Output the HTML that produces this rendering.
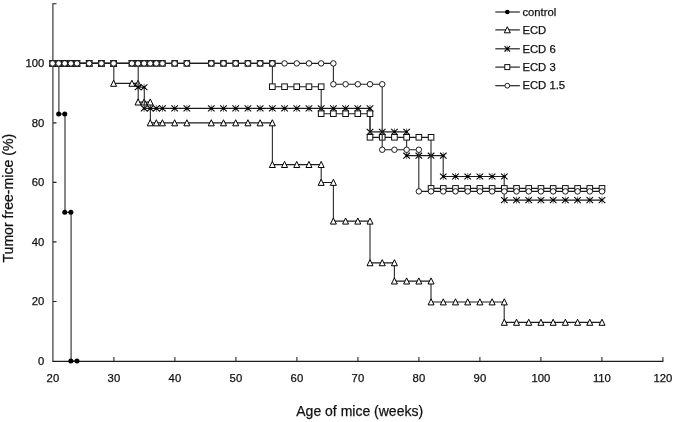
<!DOCTYPE html>
<html><head><meta charset="utf-8"><title>Tumor free-mice</title>
<style>html,body{margin:0;padding:0;background:#fff}svg{display:block;filter:grayscale(1)}text{font-family:"Liberation Sans",Arial,sans-serif;fill:#111;stroke:#111;stroke-width:0.25px}</style></head><body>
<svg width="675" height="422" viewBox="0 0 675 422">
<rect width="675" height="422" fill="#fff"/>
<path d="M52.35 361.35H663.45M52.90 301.46h3.6M52.90 241.92h3.6M52.90 182.38h3.6M52.90 122.84h3.6M52.90 63.30h3.6M52.90 3.76h3.6" fill="none" stroke="#1c1c1c" stroke-width="1.15"/>
<path d="M52.90 3.26V361.35M113.90 361.00v-4M174.90 361.00v-4M235.90 361.00v-4M296.90 361.00v-4M357.90 361.00v-4M418.90 361.00v-4M479.90 361.00v-4M540.90 361.00v-4M601.90 361.00v-4M662.90 361.00v-4" fill="none" stroke="#333" stroke-width="1.15"/>
<text x="44.3" y="364.80" font-size="11.3" text-anchor="end">0</text>
<text x="44.3" y="305.26" font-size="11.3" text-anchor="end">20</text>
<text x="44.3" y="245.72" font-size="11.3" text-anchor="end">40</text>
<text x="44.3" y="186.18" font-size="11.3" text-anchor="end">60</text>
<text x="44.3" y="126.64" font-size="11.3" text-anchor="end">80</text>
<text x="44.3" y="67.10" font-size="11.3" text-anchor="end">100</text>
<text x="52.90" y="381.7" font-size="11.3" text-anchor="middle">20</text>
<text x="113.90" y="381.7" font-size="11.3" text-anchor="middle">30</text>
<text x="174.90" y="381.7" font-size="11.3" text-anchor="middle">40</text>
<text x="235.90" y="381.7" font-size="11.3" text-anchor="middle">50</text>
<text x="296.90" y="381.7" font-size="11.3" text-anchor="middle">60</text>
<text x="357.90" y="381.7" font-size="11.3" text-anchor="middle">70</text>
<text x="418.90" y="381.7" font-size="11.3" text-anchor="middle">80</text>
<text x="479.90" y="381.7" font-size="11.3" text-anchor="middle">90</text>
<text x="540.90" y="381.7" font-size="11.3" text-anchor="middle">100</text>
<text x="601.90" y="381.7" font-size="11.3" text-anchor="middle">110</text>
<text x="662.90" y="381.7" font-size="11.3" text-anchor="middle">120</text>
<text x="359.7" y="416.4" font-size="14" text-anchor="middle">Age of mice (weeks)</text>
<text transform="translate(13.4 198.2) rotate(-90)" font-size="14.1" text-anchor="middle">Tumor free-mice (%)</text>
<g><path d="M52.80 63.40H58.90M58.90 114.01H65.00M65.00 212.25H71.10M71.10 361.10H77.20" fill="none" stroke="#1c1c1c" stroke-width="1.15"/><path d="M58.90 63.40V114.01M65.00 114.01V212.25M71.10 212.25V361.10" fill="none" stroke="#333" stroke-width="1.15"/>
<circle cx="52.55" cy="63.40" r="2.5" fill="#000"/>
<circle cx="58.66" cy="63.40" r="2.5" fill="#000"/>
<circle cx="58.66" cy="114.01" r="2.5" fill="#000"/>
<circle cx="64.76" cy="114.01" r="2.5" fill="#000"/>
<circle cx="64.76" cy="212.25" r="2.5" fill="#000"/>
<circle cx="70.86" cy="212.25" r="2.5" fill="#000"/>
<circle cx="70.86" cy="361.10" r="2.5" fill="#000"/>
<circle cx="76.97" cy="361.10" r="2.5" fill="#000"/>
</g>
<g><path d="M52.80 63.40H58.90M58.90 63.40H65.00M65.00 63.40H71.10M71.10 63.40H77.20M77.20 63.40H89.40M89.40 63.40H101.60M101.60 63.40H113.80M113.80 83.40H132.10M132.10 83.40H138.20M138.20 102.10H144.30M144.30 102.10H150.40M150.40 122.94H156.50M156.50 122.94H162.60M162.60 122.94H174.80M174.80 122.94H187.00M187.00 122.94H211.40M211.40 122.94H223.60M223.60 122.94H235.80M235.80 122.94H248.00M248.00 122.94H260.20M260.20 122.94H272.40M272.40 164.62H284.60M284.60 164.62H296.80M296.80 164.62H309.00M309.00 164.62H321.20M321.20 182.48H333.40M333.40 221.18H345.60M345.60 221.18H357.80M357.80 221.18H370.00M370.00 262.86H382.20M382.20 262.86H394.40M394.40 281.10H406.60M406.60 281.10H418.80M418.80 281.10H431.00M431.00 302.00H443.20M443.20 302.00H455.40M455.40 302.00H467.60M467.60 302.00H479.80M479.80 302.00H492.00M492.00 302.00H504.20M504.20 322.40H516.40M516.40 322.40H528.60M528.60 322.40H540.80M540.80 322.40H553.00M553.00 322.40H565.20M565.20 322.40H577.40M577.40 322.40H589.60M589.60 322.40H601.80" fill="none" stroke="#1c1c1c" stroke-width="1.15"/><path d="M113.80 63.40V83.40M138.20 83.40V102.10M150.40 102.10V122.94M272.40 122.94V164.62M321.20 164.62V182.48M333.40 182.48V221.18M370.00 221.18V262.86M394.40 262.86V281.10M431.00 281.10V302.00M504.20 302.00V322.40" fill="none" stroke="#333" stroke-width="1.15"/>
<path d="M52.55 60.20 L55.55 66.30 L49.55 66.30 Z" fill="#fff" stroke="#000" stroke-width="1"/>
<path d="M58.66 60.20 L61.66 66.30 L55.66 66.30 Z" fill="#fff" stroke="#000" stroke-width="1"/>
<path d="M64.76 60.20 L67.76 66.30 L61.76 66.30 Z" fill="#fff" stroke="#000" stroke-width="1"/>
<path d="M70.86 60.20 L73.86 66.30 L67.86 66.30 Z" fill="#fff" stroke="#000" stroke-width="1"/>
<path d="M76.97 60.20 L79.97 66.30 L73.97 66.30 Z" fill="#fff" stroke="#000" stroke-width="1"/>
<path d="M89.18 60.20 L92.18 66.30 L86.18 66.30 Z" fill="#fff" stroke="#000" stroke-width="1"/>
<path d="M101.39 60.20 L104.39 66.30 L98.39 66.30 Z" fill="#fff" stroke="#000" stroke-width="1"/>
<path d="M113.60 60.20 L116.60 66.30 L110.60 66.30 Z" fill="#fff" stroke="#000" stroke-width="1"/>
<path d="M113.60 80.20 L116.60 86.30 L110.60 86.30 Z" fill="#fff" stroke="#000" stroke-width="1"/>
<path d="M131.92 80.20 L134.92 86.30 L128.92 86.30 Z" fill="#fff" stroke="#000" stroke-width="1"/>
<path d="M138.02 80.20 L141.02 86.30 L135.02 86.30 Z" fill="#fff" stroke="#000" stroke-width="1"/>
<path d="M138.02 98.90 L141.02 105.00 L135.02 105.00 Z" fill="#fff" stroke="#000" stroke-width="1"/>
<path d="M144.12 98.90 L147.12 105.00 L141.12 105.00 Z" fill="#fff" stroke="#000" stroke-width="1"/>
<path d="M150.23 98.90 L153.23 105.00 L147.23 105.00 Z" fill="#fff" stroke="#000" stroke-width="1"/>
<path d="M150.23 119.74 L153.23 125.84 L147.23 125.84 Z" fill="#fff" stroke="#000" stroke-width="1"/>
<path d="M156.34 119.74 L159.34 125.84 L153.34 125.84 Z" fill="#fff" stroke="#000" stroke-width="1"/>
<path d="M162.44 119.74 L165.44 125.84 L159.44 125.84 Z" fill="#fff" stroke="#000" stroke-width="1"/>
<path d="M174.65 119.74 L177.65 125.84 L171.65 125.84 Z" fill="#fff" stroke="#000" stroke-width="1"/>
<path d="M186.86 119.74 L189.86 125.84 L183.86 125.84 Z" fill="#fff" stroke="#000" stroke-width="1"/>
<path d="M211.28 119.74 L214.28 125.84 L208.28 125.84 Z" fill="#fff" stroke="#000" stroke-width="1"/>
<path d="M223.49 119.74 L226.49 125.84 L220.49 125.84 Z" fill="#fff" stroke="#000" stroke-width="1"/>
<path d="M235.70 119.74 L238.70 125.84 L232.70 125.84 Z" fill="#fff" stroke="#000" stroke-width="1"/>
<path d="M247.91 119.74 L250.91 125.84 L244.91 125.84 Z" fill="#fff" stroke="#000" stroke-width="1"/>
<path d="M260.12 119.74 L263.12 125.84 L257.12 125.84 Z" fill="#fff" stroke="#000" stroke-width="1"/>
<path d="M272.33 119.74 L275.33 125.84 L269.33 125.84 Z" fill="#fff" stroke="#000" stroke-width="1"/>
<path d="M272.33 161.42 L275.33 167.52 L269.33 167.52 Z" fill="#fff" stroke="#000" stroke-width="1"/>
<path d="M284.54 161.42 L287.54 167.52 L281.54 167.52 Z" fill="#fff" stroke="#000" stroke-width="1"/>
<path d="M296.75 161.42 L299.75 167.52 L293.75 167.52 Z" fill="#fff" stroke="#000" stroke-width="1"/>
<path d="M308.96 161.42 L311.96 167.52 L305.96 167.52 Z" fill="#fff" stroke="#000" stroke-width="1"/>
<path d="M321.17 161.42 L324.17 167.52 L318.17 167.52 Z" fill="#fff" stroke="#000" stroke-width="1"/>
<path d="M321.17 179.28 L324.17 185.38 L318.17 185.38 Z" fill="#fff" stroke="#000" stroke-width="1"/>
<path d="M333.38 179.28 L336.38 185.38 L330.38 185.38 Z" fill="#fff" stroke="#000" stroke-width="1"/>
<path d="M333.38 217.98 L336.38 224.08 L330.38 224.08 Z" fill="#fff" stroke="#000" stroke-width="1"/>
<path d="M345.59 217.98 L348.59 224.08 L342.59 224.08 Z" fill="#fff" stroke="#000" stroke-width="1"/>
<path d="M357.80 217.98 L360.80 224.08 L354.80 224.08 Z" fill="#fff" stroke="#000" stroke-width="1"/>
<path d="M370.01 217.98 L373.01 224.08 L367.01 224.08 Z" fill="#fff" stroke="#000" stroke-width="1"/>
<path d="M370.01 259.66 L373.01 265.76 L367.01 265.76 Z" fill="#fff" stroke="#000" stroke-width="1"/>
<path d="M382.22 259.66 L385.22 265.76 L379.22 265.76 Z" fill="#fff" stroke="#000" stroke-width="1"/>
<path d="M394.43 259.66 L397.43 265.76 L391.43 265.76 Z" fill="#fff" stroke="#000" stroke-width="1"/>
<path d="M394.43 277.90 L397.43 284.00 L391.43 284.00 Z" fill="#fff" stroke="#000" stroke-width="1"/>
<path d="M406.64 277.90 L409.64 284.00 L403.64 284.00 Z" fill="#fff" stroke="#000" stroke-width="1"/>
<path d="M418.85 277.90 L421.85 284.00 L415.85 284.00 Z" fill="#fff" stroke="#000" stroke-width="1"/>
<path d="M431.06 277.90 L434.06 284.00 L428.06 284.00 Z" fill="#fff" stroke="#000" stroke-width="1"/>
<path d="M431.06 298.80 L434.06 304.90 L428.06 304.90 Z" fill="#fff" stroke="#000" stroke-width="1"/>
<path d="M443.27 298.80 L446.27 304.90 L440.27 304.90 Z" fill="#fff" stroke="#000" stroke-width="1"/>
<path d="M455.48 298.80 L458.48 304.90 L452.48 304.90 Z" fill="#fff" stroke="#000" stroke-width="1"/>
<path d="M467.69 298.80 L470.69 304.90 L464.69 304.90 Z" fill="#fff" stroke="#000" stroke-width="1"/>
<path d="M479.90 298.80 L482.90 304.90 L476.90 304.90 Z" fill="#fff" stroke="#000" stroke-width="1"/>
<path d="M492.11 298.80 L495.11 304.90 L489.11 304.90 Z" fill="#fff" stroke="#000" stroke-width="1"/>
<path d="M504.32 298.80 L507.32 304.90 L501.32 304.90 Z" fill="#fff" stroke="#000" stroke-width="1"/>
<path d="M504.32 319.20 L507.32 325.30 L501.32 325.30 Z" fill="#fff" stroke="#000" stroke-width="1"/>
<path d="M516.53 319.20 L519.53 325.30 L513.53 325.30 Z" fill="#fff" stroke="#000" stroke-width="1"/>
<path d="M528.74 319.20 L531.74 325.30 L525.74 325.30 Z" fill="#fff" stroke="#000" stroke-width="1"/>
<path d="M540.95 319.20 L543.95 325.30 L537.95 325.30 Z" fill="#fff" stroke="#000" stroke-width="1"/>
<path d="M553.16 319.20 L556.16 325.30 L550.16 325.30 Z" fill="#fff" stroke="#000" stroke-width="1"/>
<path d="M565.37 319.20 L568.37 325.30 L562.37 325.30 Z" fill="#fff" stroke="#000" stroke-width="1"/>
<path d="M577.58 319.20 L580.58 325.30 L574.58 325.30 Z" fill="#fff" stroke="#000" stroke-width="1"/>
<path d="M589.79 319.20 L592.79 325.30 L586.79 325.30 Z" fill="#fff" stroke="#000" stroke-width="1"/>
<path d="M602.00 319.20 L605.00 325.30 L599.00 325.30 Z" fill="#fff" stroke="#000" stroke-width="1"/>
</g>
<g><path d="M52.80 63.40H58.90M58.90 63.40H65.00M65.00 63.40H71.10M71.10 63.40H77.20M77.20 63.40H89.40M89.40 63.40H101.60M101.60 63.40H113.80M113.80 63.40H132.10M132.10 63.40H138.20M138.20 87.22H144.30M144.30 108.40H150.40M150.40 108.40H156.50M156.50 108.40H162.60M162.60 108.40H174.80M174.80 108.40H187.00M187.00 108.40H211.40M211.40 108.40H223.60M223.60 108.40H235.80M235.80 108.40H248.00M248.00 108.40H260.20M260.20 108.40H272.40M272.40 108.40H284.60M284.60 108.40H296.80M296.80 108.40H309.00M309.00 108.40H321.20M321.20 108.40H333.40M333.40 108.40H345.60M345.60 108.40H357.80M357.80 108.40H370.00M370.00 131.87H382.20M382.20 131.87H394.40M394.40 131.87H406.60M406.60 155.69H418.80M418.80 155.69H431.00M431.00 155.69H443.20M443.20 176.53H455.40M455.40 176.53H467.60M467.60 176.53H479.80M479.80 176.53H492.00M492.00 176.53H504.20M504.20 200.10H516.40M516.40 200.10H528.60M528.60 200.10H540.80M540.80 200.10H553.00M553.00 200.10H565.20M565.20 200.10H577.40M577.40 200.10H589.60M589.60 200.10H601.80" fill="none" stroke="#1c1c1c" stroke-width="1.15"/><path d="M138.20 63.40V87.22M144.30 87.22V108.40M370.00 108.40V131.87M406.60 131.87V155.69M443.20 155.69V176.53M504.20 176.53V200.10" fill="none" stroke="#333" stroke-width="1.15"/>
<path d="M49.25 60.45 L55.85 66.35 M49.25 66.35 L55.85 60.45" fill="none" stroke="#000" stroke-width="1.05"/><path d="M52.55 59.90 L52.55 66.90" fill="none" stroke="#555" stroke-width="0.8"/><circle cx="52.55" cy="63.40" r="1.25" fill="#000"/>
<path d="M55.36 60.45 L61.95 66.35 M55.36 66.35 L61.95 60.45" fill="none" stroke="#000" stroke-width="1.05"/><path d="M58.66 59.90 L58.66 66.90" fill="none" stroke="#555" stroke-width="0.8"/><circle cx="58.66" cy="63.40" r="1.25" fill="#000"/>
<path d="M61.46 60.45 L68.06 66.35 M61.46 66.35 L68.06 60.45" fill="none" stroke="#000" stroke-width="1.05"/><path d="M64.76 59.90 L64.76 66.90" fill="none" stroke="#555" stroke-width="0.8"/><circle cx="64.76" cy="63.40" r="1.25" fill="#000"/>
<path d="M67.56 60.45 L74.16 66.35 M67.56 66.35 L74.16 60.45" fill="none" stroke="#000" stroke-width="1.05"/><path d="M70.86 59.90 L70.86 66.90" fill="none" stroke="#555" stroke-width="0.8"/><circle cx="70.86" cy="63.40" r="1.25" fill="#000"/>
<path d="M73.67 60.45 L80.27 66.35 M73.67 66.35 L80.27 60.45" fill="none" stroke="#000" stroke-width="1.05"/><path d="M76.97 59.90 L76.97 66.90" fill="none" stroke="#555" stroke-width="0.8"/><circle cx="76.97" cy="63.40" r="1.25" fill="#000"/>
<path d="M85.88 60.45 L92.48 66.35 M85.88 66.35 L92.48 60.45" fill="none" stroke="#000" stroke-width="1.05"/><path d="M89.18 59.90 L89.18 66.90" fill="none" stroke="#555" stroke-width="0.8"/><circle cx="89.18" cy="63.40" r="1.25" fill="#000"/>
<path d="M98.09 60.45 L104.69 66.35 M98.09 66.35 L104.69 60.45" fill="none" stroke="#000" stroke-width="1.05"/><path d="M101.39 59.90 L101.39 66.90" fill="none" stroke="#555" stroke-width="0.8"/><circle cx="101.39" cy="63.40" r="1.25" fill="#000"/>
<path d="M110.30 60.45 L116.90 66.35 M110.30 66.35 L116.90 60.45" fill="none" stroke="#000" stroke-width="1.05"/><path d="M113.60 59.90 L113.60 66.90" fill="none" stroke="#555" stroke-width="0.8"/><circle cx="113.60" cy="63.40" r="1.25" fill="#000"/>
<path d="M128.62 60.45 L135.22 66.35 M128.62 66.35 L135.22 60.45" fill="none" stroke="#000" stroke-width="1.05"/><path d="M131.92 59.90 L131.92 66.90" fill="none" stroke="#555" stroke-width="0.8"/><circle cx="131.92" cy="63.40" r="1.25" fill="#000"/>
<path d="M134.72 60.45 L141.32 66.35 M134.72 66.35 L141.32 60.45" fill="none" stroke="#000" stroke-width="1.05"/><path d="M138.02 59.90 L138.02 66.90" fill="none" stroke="#555" stroke-width="0.8"/><circle cx="138.02" cy="63.40" r="1.25" fill="#000"/>
<path d="M134.72 84.27 L141.32 90.17 M134.72 90.17 L141.32 84.27" fill="none" stroke="#000" stroke-width="1.05"/><path d="M138.02 83.72 L138.02 90.72" fill="none" stroke="#555" stroke-width="0.8"/><circle cx="138.02" cy="87.22" r="1.25" fill="#000"/>
<path d="M140.82 84.27 L147.43 90.17 M140.82 90.17 L147.43 84.27" fill="none" stroke="#000" stroke-width="1.05"/><path d="M144.12 83.72 L144.12 90.72" fill="none" stroke="#555" stroke-width="0.8"/><circle cx="144.12" cy="87.22" r="1.25" fill="#000"/>
<path d="M140.82 105.45 L147.43 111.35 M140.82 111.35 L147.43 105.45" fill="none" stroke="#000" stroke-width="1.05"/><path d="M144.12 104.90 L144.12 111.90" fill="none" stroke="#555" stroke-width="0.8"/><circle cx="144.12" cy="108.40" r="1.25" fill="#000"/>
<path d="M146.93 105.45 L153.53 111.35 M146.93 111.35 L153.53 105.45" fill="none" stroke="#000" stroke-width="1.05"/><path d="M150.23 104.90 L150.23 111.90" fill="none" stroke="#555" stroke-width="0.8"/><circle cx="150.23" cy="108.40" r="1.25" fill="#000"/>
<path d="M153.03 105.45 L159.64 111.35 M153.03 111.35 L159.64 105.45" fill="none" stroke="#000" stroke-width="1.05"/><path d="M156.34 104.90 L156.34 111.90" fill="none" stroke="#555" stroke-width="0.8"/><circle cx="156.34" cy="108.40" r="1.25" fill="#000"/>
<path d="M159.14 105.45 L165.74 111.35 M159.14 111.35 L165.74 105.45" fill="none" stroke="#000" stroke-width="1.05"/><path d="M162.44 104.90 L162.44 111.90" fill="none" stroke="#555" stroke-width="0.8"/><circle cx="162.44" cy="108.40" r="1.25" fill="#000"/>
<path d="M171.35 105.45 L177.95 111.35 M171.35 111.35 L177.95 105.45" fill="none" stroke="#000" stroke-width="1.05"/><path d="M174.65 104.90 L174.65 111.90" fill="none" stroke="#555" stroke-width="0.8"/><circle cx="174.65" cy="108.40" r="1.25" fill="#000"/>
<path d="M183.56 105.45 L190.16 111.35 M183.56 111.35 L190.16 105.45" fill="none" stroke="#000" stroke-width="1.05"/><path d="M186.86 104.90 L186.86 111.90" fill="none" stroke="#555" stroke-width="0.8"/><circle cx="186.86" cy="108.40" r="1.25" fill="#000"/>
<path d="M207.98 105.45 L214.58 111.35 M207.98 111.35 L214.58 105.45" fill="none" stroke="#000" stroke-width="1.05"/><path d="M211.28 104.90 L211.28 111.90" fill="none" stroke="#555" stroke-width="0.8"/><circle cx="211.28" cy="108.40" r="1.25" fill="#000"/>
<path d="M220.19 105.45 L226.79 111.35 M220.19 111.35 L226.79 105.45" fill="none" stroke="#000" stroke-width="1.05"/><path d="M223.49 104.90 L223.49 111.90" fill="none" stroke="#555" stroke-width="0.8"/><circle cx="223.49" cy="108.40" r="1.25" fill="#000"/>
<path d="M232.40 105.45 L239.00 111.35 M232.40 111.35 L239.00 105.45" fill="none" stroke="#000" stroke-width="1.05"/><path d="M235.70 104.90 L235.70 111.90" fill="none" stroke="#555" stroke-width="0.8"/><circle cx="235.70" cy="108.40" r="1.25" fill="#000"/>
<path d="M244.61 105.45 L251.21 111.35 M244.61 111.35 L251.21 105.45" fill="none" stroke="#000" stroke-width="1.05"/><path d="M247.91 104.90 L247.91 111.90" fill="none" stroke="#555" stroke-width="0.8"/><circle cx="247.91" cy="108.40" r="1.25" fill="#000"/>
<path d="M256.82 105.45 L263.42 111.35 M256.82 111.35 L263.42 105.45" fill="none" stroke="#000" stroke-width="1.05"/><path d="M260.12 104.90 L260.12 111.90" fill="none" stroke="#555" stroke-width="0.8"/><circle cx="260.12" cy="108.40" r="1.25" fill="#000"/>
<path d="M269.03 105.45 L275.63 111.35 M269.03 111.35 L275.63 105.45" fill="none" stroke="#000" stroke-width="1.05"/><path d="M272.33 104.90 L272.33 111.90" fill="none" stroke="#555" stroke-width="0.8"/><circle cx="272.33" cy="108.40" r="1.25" fill="#000"/>
<path d="M281.24 105.45 L287.84 111.35 M281.24 111.35 L287.84 105.45" fill="none" stroke="#000" stroke-width="1.05"/><path d="M284.54 104.90 L284.54 111.90" fill="none" stroke="#555" stroke-width="0.8"/><circle cx="284.54" cy="108.40" r="1.25" fill="#000"/>
<path d="M293.45 105.45 L300.05 111.35 M293.45 111.35 L300.05 105.45" fill="none" stroke="#000" stroke-width="1.05"/><path d="M296.75 104.90 L296.75 111.90" fill="none" stroke="#555" stroke-width="0.8"/><circle cx="296.75" cy="108.40" r="1.25" fill="#000"/>
<path d="M305.66 105.45 L312.26 111.35 M305.66 111.35 L312.26 105.45" fill="none" stroke="#000" stroke-width="1.05"/><path d="M308.96 104.90 L308.96 111.90" fill="none" stroke="#555" stroke-width="0.8"/><circle cx="308.96" cy="108.40" r="1.25" fill="#000"/>
<path d="M317.87 105.45 L324.47 111.35 M317.87 111.35 L324.47 105.45" fill="none" stroke="#000" stroke-width="1.05"/><path d="M321.17 104.90 L321.17 111.90" fill="none" stroke="#555" stroke-width="0.8"/><circle cx="321.17" cy="108.40" r="1.25" fill="#000"/>
<path d="M330.08 105.45 L336.68 111.35 M330.08 111.35 L336.68 105.45" fill="none" stroke="#000" stroke-width="1.05"/><path d="M333.38 104.90 L333.38 111.90" fill="none" stroke="#555" stroke-width="0.8"/><circle cx="333.38" cy="108.40" r="1.25" fill="#000"/>
<path d="M342.29 105.45 L348.89 111.35 M342.29 111.35 L348.89 105.45" fill="none" stroke="#000" stroke-width="1.05"/><path d="M345.59 104.90 L345.59 111.90" fill="none" stroke="#555" stroke-width="0.8"/><circle cx="345.59" cy="108.40" r="1.25" fill="#000"/>
<path d="M354.50 105.45 L361.10 111.35 M354.50 111.35 L361.10 105.45" fill="none" stroke="#000" stroke-width="1.05"/><path d="M357.80 104.90 L357.80 111.90" fill="none" stroke="#555" stroke-width="0.8"/><circle cx="357.80" cy="108.40" r="1.25" fill="#000"/>
<path d="M366.71 105.45 L373.31 111.35 M366.71 111.35 L373.31 105.45" fill="none" stroke="#000" stroke-width="1.05"/><path d="M370.01 104.90 L370.01 111.90" fill="none" stroke="#555" stroke-width="0.8"/><circle cx="370.01" cy="108.40" r="1.25" fill="#000"/>
<path d="M366.71 128.92 L373.31 134.82 M366.71 134.82 L373.31 128.92" fill="none" stroke="#000" stroke-width="1.05"/><path d="M370.01 128.37 L370.01 135.37" fill="none" stroke="#555" stroke-width="0.8"/><circle cx="370.01" cy="131.87" r="1.25" fill="#000"/>
<path d="M378.92 128.92 L385.52 134.82 M378.92 134.82 L385.52 128.92" fill="none" stroke="#000" stroke-width="1.05"/><path d="M382.22 128.37 L382.22 135.37" fill="none" stroke="#555" stroke-width="0.8"/><circle cx="382.22" cy="131.87" r="1.25" fill="#000"/>
<path d="M391.13 128.92 L397.73 134.82 M391.13 134.82 L397.73 128.92" fill="none" stroke="#000" stroke-width="1.05"/><path d="M394.43 128.37 L394.43 135.37" fill="none" stroke="#555" stroke-width="0.8"/><circle cx="394.43" cy="131.87" r="1.25" fill="#000"/>
<path d="M403.34 128.92 L409.94 134.82 M403.34 134.82 L409.94 128.92" fill="none" stroke="#000" stroke-width="1.05"/><path d="M406.64 128.37 L406.64 135.37" fill="none" stroke="#555" stroke-width="0.8"/><circle cx="406.64" cy="131.87" r="1.25" fill="#000"/>
<path d="M403.34 152.74 L409.94 158.64 M403.34 158.64 L409.94 152.74" fill="none" stroke="#000" stroke-width="1.05"/><path d="M406.64 152.19 L406.64 159.19" fill="none" stroke="#555" stroke-width="0.8"/><circle cx="406.64" cy="155.69" r="1.25" fill="#000"/>
<path d="M415.55 152.74 L422.15 158.64 M415.55 158.64 L422.15 152.74" fill="none" stroke="#000" stroke-width="1.05"/><path d="M418.85 152.19 L418.85 159.19" fill="none" stroke="#555" stroke-width="0.8"/><circle cx="418.85" cy="155.69" r="1.25" fill="#000"/>
<path d="M427.76 152.74 L434.36 158.64 M427.76 158.64 L434.36 152.74" fill="none" stroke="#000" stroke-width="1.05"/><path d="M431.06 152.19 L431.06 159.19" fill="none" stroke="#555" stroke-width="0.8"/><circle cx="431.06" cy="155.69" r="1.25" fill="#000"/>
<path d="M439.97 152.74 L446.57 158.64 M439.97 158.64 L446.57 152.74" fill="none" stroke="#000" stroke-width="1.05"/><path d="M443.27 152.19 L443.27 159.19" fill="none" stroke="#555" stroke-width="0.8"/><circle cx="443.27" cy="155.69" r="1.25" fill="#000"/>
<path d="M439.97 173.58 L446.57 179.48 M439.97 179.48 L446.57 173.58" fill="none" stroke="#000" stroke-width="1.05"/><path d="M443.27 173.03 L443.27 180.03" fill="none" stroke="#555" stroke-width="0.8"/><circle cx="443.27" cy="176.53" r="1.25" fill="#000"/>
<path d="M452.18 173.58 L458.78 179.48 M452.18 179.48 L458.78 173.58" fill="none" stroke="#000" stroke-width="1.05"/><path d="M455.48 173.03 L455.48 180.03" fill="none" stroke="#555" stroke-width="0.8"/><circle cx="455.48" cy="176.53" r="1.25" fill="#000"/>
<path d="M464.39 173.58 L470.99 179.48 M464.39 179.48 L470.99 173.58" fill="none" stroke="#000" stroke-width="1.05"/><path d="M467.69 173.03 L467.69 180.03" fill="none" stroke="#555" stroke-width="0.8"/><circle cx="467.69" cy="176.53" r="1.25" fill="#000"/>
<path d="M476.60 173.58 L483.20 179.48 M476.60 179.48 L483.20 173.58" fill="none" stroke="#000" stroke-width="1.05"/><path d="M479.90 173.03 L479.90 180.03" fill="none" stroke="#555" stroke-width="0.8"/><circle cx="479.90" cy="176.53" r="1.25" fill="#000"/>
<path d="M488.81 173.58 L495.41 179.48 M488.81 179.48 L495.41 173.58" fill="none" stroke="#000" stroke-width="1.05"/><path d="M492.11 173.03 L492.11 180.03" fill="none" stroke="#555" stroke-width="0.8"/><circle cx="492.11" cy="176.53" r="1.25" fill="#000"/>
<path d="M501.02 173.58 L507.62 179.48 M501.02 179.48 L507.62 173.58" fill="none" stroke="#000" stroke-width="1.05"/><path d="M504.32 173.03 L504.32 180.03" fill="none" stroke="#555" stroke-width="0.8"/><circle cx="504.32" cy="176.53" r="1.25" fill="#000"/>
<path d="M501.02 197.15 L507.62 203.05 M501.02 203.05 L507.62 197.15" fill="none" stroke="#000" stroke-width="1.05"/><path d="M504.32 196.60 L504.32 203.60" fill="none" stroke="#555" stroke-width="0.8"/><circle cx="504.32" cy="200.10" r="1.25" fill="#000"/>
<path d="M513.23 197.15 L519.83 203.05 M513.23 203.05 L519.83 197.15" fill="none" stroke="#000" stroke-width="1.05"/><path d="M516.53 196.60 L516.53 203.60" fill="none" stroke="#555" stroke-width="0.8"/><circle cx="516.53" cy="200.10" r="1.25" fill="#000"/>
<path d="M525.44 197.15 L532.04 203.05 M525.44 203.05 L532.04 197.15" fill="none" stroke="#000" stroke-width="1.05"/><path d="M528.74 196.60 L528.74 203.60" fill="none" stroke="#555" stroke-width="0.8"/><circle cx="528.74" cy="200.10" r="1.25" fill="#000"/>
<path d="M537.65 197.15 L544.25 203.05 M537.65 203.05 L544.25 197.15" fill="none" stroke="#000" stroke-width="1.05"/><path d="M540.95 196.60 L540.95 203.60" fill="none" stroke="#555" stroke-width="0.8"/><circle cx="540.95" cy="200.10" r="1.25" fill="#000"/>
<path d="M549.86 197.15 L556.46 203.05 M549.86 203.05 L556.46 197.15" fill="none" stroke="#000" stroke-width="1.05"/><path d="M553.16 196.60 L553.16 203.60" fill="none" stroke="#555" stroke-width="0.8"/><circle cx="553.16" cy="200.10" r="1.25" fill="#000"/>
<path d="M562.07 197.15 L568.67 203.05 M562.07 203.05 L568.67 197.15" fill="none" stroke="#000" stroke-width="1.05"/><path d="M565.37 196.60 L565.37 203.60" fill="none" stroke="#555" stroke-width="0.8"/><circle cx="565.37" cy="200.10" r="1.25" fill="#000"/>
<path d="M574.28 197.15 L580.88 203.05 M574.28 203.05 L580.88 197.15" fill="none" stroke="#000" stroke-width="1.05"/><path d="M577.58 196.60 L577.58 203.60" fill="none" stroke="#555" stroke-width="0.8"/><circle cx="577.58" cy="200.10" r="1.25" fill="#000"/>
<path d="M586.49 197.15 L593.09 203.05 M586.49 203.05 L593.09 197.15" fill="none" stroke="#000" stroke-width="1.05"/><path d="M589.79 196.60 L589.79 203.60" fill="none" stroke="#555" stroke-width="0.8"/><circle cx="589.79" cy="200.10" r="1.25" fill="#000"/>
<path d="M598.70 197.15 L605.30 203.05 M598.70 203.05 L605.30 197.15" fill="none" stroke="#000" stroke-width="1.05"/><path d="M602.00 196.60 L602.00 203.60" fill="none" stroke="#555" stroke-width="0.8"/><circle cx="602.00" cy="200.10" r="1.25" fill="#000"/>
</g>
<g><path d="M52.80 63.40H58.90M58.90 63.40H65.00M65.00 63.40H71.10M71.10 63.40H77.20M77.20 63.40H89.40M89.40 63.40H101.60M101.60 63.40H113.80M113.80 63.40H132.10M132.10 63.40H138.20M138.20 63.40H144.30M144.30 63.40H150.40M150.40 63.40H156.50M156.50 63.40H162.60M162.60 63.40H174.80M174.80 63.40H187.00M187.00 63.40H211.40M211.40 63.40H223.60M223.60 63.40H235.80M235.80 63.40H248.00M248.00 63.40H260.20M260.20 63.40H272.40M272.40 86.70H284.60M284.60 86.70H296.80M296.80 86.70H309.00M309.00 86.70H321.20M321.20 113.70H333.40M333.40 113.70H345.60M345.60 113.70H357.80M357.80 113.70H370.00M370.00 137.30H382.20M382.20 137.30H394.40M394.40 137.30H406.60M406.60 137.30H418.80M418.80 137.30H431.00M431.00 188.40H443.20M443.20 188.40H455.40M455.40 188.40H467.60M467.60 188.40H479.80M479.80 188.40H492.00M492.00 188.40H504.20M504.20 188.40H516.40M516.40 188.40H528.60M528.60 188.40H540.80M540.80 188.40H553.00M553.00 188.40H565.20M565.20 188.40H577.40M577.40 188.40H589.60M589.60 188.40H601.80" fill="none" stroke="#1c1c1c" stroke-width="1.15"/><path d="M272.40 63.40V86.70M321.20 86.70V113.70M370.00 113.70V137.30M431.00 137.30V188.40" fill="none" stroke="#333" stroke-width="1.15"/>
<rect x="49.75" y="60.60" width="5.60" height="5.60" fill="#fff" stroke="#111" stroke-width="1"/>
<rect x="55.86" y="60.60" width="5.60" height="5.60" fill="#fff" stroke="#111" stroke-width="1"/>
<rect x="61.96" y="60.60" width="5.60" height="5.60" fill="#fff" stroke="#111" stroke-width="1"/>
<rect x="68.06" y="60.60" width="5.60" height="5.60" fill="#fff" stroke="#111" stroke-width="1"/>
<rect x="74.17" y="60.60" width="5.60" height="5.60" fill="#fff" stroke="#111" stroke-width="1"/>
<rect x="86.38" y="60.60" width="5.60" height="5.60" fill="#fff" stroke="#111" stroke-width="1"/>
<rect x="98.59" y="60.60" width="5.60" height="5.60" fill="#fff" stroke="#111" stroke-width="1"/>
<rect x="110.80" y="60.60" width="5.60" height="5.60" fill="#fff" stroke="#111" stroke-width="1"/>
<rect x="129.12" y="60.60" width="5.60" height="5.60" fill="#fff" stroke="#111" stroke-width="1"/>
<rect x="135.22" y="60.60" width="5.60" height="5.60" fill="#fff" stroke="#111" stroke-width="1"/>
<rect x="141.32" y="60.60" width="5.60" height="5.60" fill="#fff" stroke="#111" stroke-width="1"/>
<rect x="147.43" y="60.60" width="5.60" height="5.60" fill="#fff" stroke="#111" stroke-width="1"/>
<rect x="153.53" y="60.60" width="5.60" height="5.60" fill="#fff" stroke="#111" stroke-width="1"/>
<rect x="159.64" y="60.60" width="5.60" height="5.60" fill="#fff" stroke="#111" stroke-width="1"/>
<rect x="171.85" y="60.60" width="5.60" height="5.60" fill="#fff" stroke="#111" stroke-width="1"/>
<rect x="184.06" y="60.60" width="5.60" height="5.60" fill="#fff" stroke="#111" stroke-width="1"/>
<rect x="208.48" y="60.60" width="5.60" height="5.60" fill="#fff" stroke="#111" stroke-width="1"/>
<rect x="220.69" y="60.60" width="5.60" height="5.60" fill="#fff" stroke="#111" stroke-width="1"/>
<rect x="232.90" y="60.60" width="5.60" height="5.60" fill="#fff" stroke="#111" stroke-width="1"/>
<rect x="245.11" y="60.60" width="5.60" height="5.60" fill="#fff" stroke="#111" stroke-width="1"/>
<rect x="257.32" y="60.60" width="5.60" height="5.60" fill="#fff" stroke="#111" stroke-width="1"/>
<rect x="269.53" y="60.60" width="5.60" height="5.60" fill="#fff" stroke="#111" stroke-width="1"/>
<rect x="269.53" y="83.90" width="5.60" height="5.60" fill="#fff" stroke="#111" stroke-width="1"/>
<rect x="281.74" y="83.90" width="5.60" height="5.60" fill="#fff" stroke="#111" stroke-width="1"/>
<rect x="293.95" y="83.90" width="5.60" height="5.60" fill="#fff" stroke="#111" stroke-width="1"/>
<rect x="306.16" y="83.90" width="5.60" height="5.60" fill="#fff" stroke="#111" stroke-width="1"/>
<rect x="318.37" y="83.90" width="5.60" height="5.60" fill="#fff" stroke="#111" stroke-width="1"/>
<rect x="318.37" y="110.90" width="5.60" height="5.60" fill="#fff" stroke="#111" stroke-width="1"/>
<rect x="330.58" y="110.90" width="5.60" height="5.60" fill="#fff" stroke="#111" stroke-width="1"/>
<rect x="342.79" y="110.90" width="5.60" height="5.60" fill="#fff" stroke="#111" stroke-width="1"/>
<rect x="355.00" y="110.90" width="5.60" height="5.60" fill="#fff" stroke="#111" stroke-width="1"/>
<rect x="367.21" y="110.90" width="5.60" height="5.60" fill="#fff" stroke="#111" stroke-width="1"/>
<rect x="367.21" y="134.50" width="5.60" height="5.60" fill="#fff" stroke="#111" stroke-width="1"/>
<rect x="379.42" y="134.50" width="5.60" height="5.60" fill="#fff" stroke="#111" stroke-width="1"/>
<rect x="391.63" y="134.50" width="5.60" height="5.60" fill="#fff" stroke="#111" stroke-width="1"/>
<rect x="403.84" y="134.50" width="5.60" height="5.60" fill="#fff" stroke="#111" stroke-width="1"/>
<rect x="416.05" y="134.50" width="5.60" height="5.60" fill="#fff" stroke="#111" stroke-width="1"/>
<rect x="428.26" y="134.50" width="5.60" height="5.60" fill="#fff" stroke="#111" stroke-width="1"/>
<rect x="428.26" y="185.60" width="5.60" height="5.60" fill="#fff" stroke="#111" stroke-width="1"/>
<rect x="440.47" y="185.60" width="5.60" height="5.60" fill="#fff" stroke="#111" stroke-width="1"/>
<rect x="452.68" y="185.60" width="5.60" height="5.60" fill="#fff" stroke="#111" stroke-width="1"/>
<rect x="464.89" y="185.60" width="5.60" height="5.60" fill="#fff" stroke="#111" stroke-width="1"/>
<rect x="477.10" y="185.60" width="5.60" height="5.60" fill="#fff" stroke="#111" stroke-width="1"/>
<rect x="489.31" y="185.60" width="5.60" height="5.60" fill="#fff" stroke="#111" stroke-width="1"/>
<rect x="501.52" y="185.60" width="5.60" height="5.60" fill="#fff" stroke="#111" stroke-width="1"/>
<rect x="513.73" y="185.60" width="5.60" height="5.60" fill="#fff" stroke="#111" stroke-width="1"/>
<rect x="525.94" y="185.60" width="5.60" height="5.60" fill="#fff" stroke="#111" stroke-width="1"/>
<rect x="538.15" y="185.60" width="5.60" height="5.60" fill="#fff" stroke="#111" stroke-width="1"/>
<rect x="550.36" y="185.60" width="5.60" height="5.60" fill="#fff" stroke="#111" stroke-width="1"/>
<rect x="562.57" y="185.60" width="5.60" height="5.60" fill="#fff" stroke="#111" stroke-width="1"/>
<rect x="574.78" y="185.60" width="5.60" height="5.60" fill="#fff" stroke="#111" stroke-width="1"/>
<rect x="586.99" y="185.60" width="5.60" height="5.60" fill="#fff" stroke="#111" stroke-width="1"/>
<rect x="599.20" y="185.60" width="5.60" height="5.60" fill="#fff" stroke="#111" stroke-width="1"/>
</g>
<g><path d="M52.80 63.40H58.90M58.90 63.40H65.00M65.00 63.40H71.10M71.10 63.40H77.20M77.20 63.40H89.40M89.40 63.40H101.60M101.60 63.40H113.80M113.80 63.40H132.10M132.10 63.40H138.20M138.20 63.40H144.30M144.30 63.40H150.40M150.40 63.40H156.50M156.50 63.40H162.60M162.60 63.40H174.80M174.80 63.40H187.00M187.00 63.40H211.40M211.40 63.40H223.60M223.60 63.40H235.80M235.80 63.40H248.00M248.00 63.40H260.20M260.20 63.40H272.40M272.40 63.40H284.60M284.60 63.40H296.80M296.80 63.40H309.00M309.00 63.40H321.20M321.20 63.40H333.40M333.40 84.24H345.60M345.60 84.24H357.80M357.80 84.24H370.00M370.00 84.24H382.20M382.20 149.73H394.40M394.40 149.73H406.60M406.60 149.73H418.80M418.80 191.40H431.00M431.00 191.40H443.20M443.20 191.40H455.40M455.40 191.40H467.60M467.60 191.40H479.80M479.80 191.40H492.00M492.00 191.40H504.20M504.20 191.40H516.40M516.40 191.40H528.60M528.60 191.40H540.80M540.80 191.40H553.00M553.00 191.40H565.20M565.20 191.40H577.40M577.40 191.40H589.60M589.60 191.40H601.80" fill="none" stroke="#1c1c1c" stroke-width="1.15"/><path d="M333.40 63.40V84.24M382.20 84.24V149.73M418.80 149.73V191.40" fill="none" stroke="#333" stroke-width="1.15"/>
<circle cx="52.55" cy="63.40" r="2.75" fill="#fff" stroke="#111" stroke-width="0.95"/>
<circle cx="58.66" cy="63.40" r="2.75" fill="#fff" stroke="#111" stroke-width="0.95"/>
<circle cx="64.76" cy="63.40" r="2.75" fill="#fff" stroke="#111" stroke-width="0.95"/>
<circle cx="70.86" cy="63.40" r="2.75" fill="#fff" stroke="#111" stroke-width="0.95"/>
<circle cx="76.97" cy="63.40" r="2.75" fill="#fff" stroke="#111" stroke-width="0.95"/>
<circle cx="89.18" cy="63.40" r="2.75" fill="#fff" stroke="#111" stroke-width="0.95"/>
<circle cx="101.39" cy="63.40" r="2.75" fill="#fff" stroke="#111" stroke-width="0.95"/>
<circle cx="113.60" cy="63.40" r="2.75" fill="#fff" stroke="#111" stroke-width="0.95"/>
<circle cx="131.92" cy="63.40" r="2.75" fill="#fff" stroke="#111" stroke-width="0.95"/>
<circle cx="138.02" cy="63.40" r="2.75" fill="#fff" stroke="#111" stroke-width="0.95"/>
<circle cx="144.12" cy="63.40" r="2.75" fill="#fff" stroke="#111" stroke-width="0.95"/>
<circle cx="150.23" cy="63.40" r="2.75" fill="#fff" stroke="#111" stroke-width="0.95"/>
<circle cx="156.34" cy="63.40" r="2.75" fill="#fff" stroke="#111" stroke-width="0.95"/>
<circle cx="162.44" cy="63.40" r="2.75" fill="#fff" stroke="#111" stroke-width="0.95"/>
<circle cx="174.65" cy="63.40" r="2.75" fill="#fff" stroke="#111" stroke-width="0.95"/>
<circle cx="186.86" cy="63.40" r="2.75" fill="#fff" stroke="#111" stroke-width="0.95"/>
<circle cx="211.28" cy="63.40" r="2.75" fill="#fff" stroke="#111" stroke-width="0.95"/>
<circle cx="223.49" cy="63.40" r="2.75" fill="#fff" stroke="#111" stroke-width="0.95"/>
<circle cx="235.70" cy="63.40" r="2.75" fill="#fff" stroke="#111" stroke-width="0.95"/>
<circle cx="247.91" cy="63.40" r="2.75" fill="#fff" stroke="#111" stroke-width="0.95"/>
<circle cx="260.12" cy="63.40" r="2.75" fill="#fff" stroke="#111" stroke-width="0.95"/>
<circle cx="272.33" cy="63.40" r="2.75" fill="#fff" stroke="#111" stroke-width="0.95"/>
<circle cx="284.54" cy="63.40" r="2.75" fill="#fff" stroke="#111" stroke-width="0.95"/>
<circle cx="296.75" cy="63.40" r="2.75" fill="#fff" stroke="#111" stroke-width="0.95"/>
<circle cx="308.96" cy="63.40" r="2.75" fill="#fff" stroke="#111" stroke-width="0.95"/>
<circle cx="321.17" cy="63.40" r="2.75" fill="#fff" stroke="#111" stroke-width="0.95"/>
<circle cx="333.38" cy="63.40" r="2.75" fill="#fff" stroke="#111" stroke-width="0.95"/>
<circle cx="333.38" cy="84.24" r="2.75" fill="#fff" stroke="#111" stroke-width="0.95"/>
<circle cx="345.59" cy="84.24" r="2.75" fill="#fff" stroke="#111" stroke-width="0.95"/>
<circle cx="357.80" cy="84.24" r="2.75" fill="#fff" stroke="#111" stroke-width="0.95"/>
<circle cx="370.01" cy="84.24" r="2.75" fill="#fff" stroke="#111" stroke-width="0.95"/>
<circle cx="382.22" cy="84.24" r="2.75" fill="#fff" stroke="#111" stroke-width="0.95"/>
<circle cx="382.22" cy="149.73" r="2.75" fill="#fff" stroke="#111" stroke-width="0.95"/>
<circle cx="394.43" cy="149.73" r="2.75" fill="#fff" stroke="#111" stroke-width="0.95"/>
<circle cx="406.64" cy="149.73" r="2.75" fill="#fff" stroke="#111" stroke-width="0.95"/>
<circle cx="418.85" cy="149.73" r="2.75" fill="#fff" stroke="#111" stroke-width="0.95"/>
<circle cx="418.85" cy="191.40" r="2.75" fill="#fff" stroke="#111" stroke-width="0.95"/>
<circle cx="431.06" cy="191.40" r="2.75" fill="#fff" stroke="#111" stroke-width="0.95"/>
<circle cx="443.27" cy="191.40" r="2.75" fill="#fff" stroke="#111" stroke-width="0.95"/>
<circle cx="455.48" cy="191.40" r="2.75" fill="#fff" stroke="#111" stroke-width="0.95"/>
<circle cx="467.69" cy="191.40" r="2.75" fill="#fff" stroke="#111" stroke-width="0.95"/>
<circle cx="479.90" cy="191.40" r="2.75" fill="#fff" stroke="#111" stroke-width="0.95"/>
<circle cx="492.11" cy="191.40" r="2.75" fill="#fff" stroke="#111" stroke-width="0.95"/>
<circle cx="504.32" cy="191.40" r="2.75" fill="#fff" stroke="#111" stroke-width="0.95"/>
<circle cx="516.53" cy="191.40" r="2.75" fill="#fff" stroke="#111" stroke-width="0.95"/>
<circle cx="528.74" cy="191.40" r="2.75" fill="#fff" stroke="#111" stroke-width="0.95"/>
<circle cx="540.95" cy="191.40" r="2.75" fill="#fff" stroke="#111" stroke-width="0.95"/>
<circle cx="553.16" cy="191.40" r="2.75" fill="#fff" stroke="#111" stroke-width="0.95"/>
<circle cx="565.37" cy="191.40" r="2.75" fill="#fff" stroke="#111" stroke-width="0.95"/>
<circle cx="577.58" cy="191.40" r="2.75" fill="#fff" stroke="#111" stroke-width="0.95"/>
<circle cx="589.79" cy="191.40" r="2.75" fill="#fff" stroke="#111" stroke-width="0.95"/>
<circle cx="602.00" cy="191.40" r="2.75" fill="#fff" stroke="#111" stroke-width="0.95"/>
</g>
<path d="M495.3 12.0 H519.9" stroke="#1c1c1c" stroke-width="1.15"/>
<circle cx="507.30" cy="12.00" r="2.25" fill="#000"/>
<text x="522.4" y="16.20" font-size="11.3">control</text>
<path d="M495.3 29.9 H519.9" stroke="#1c1c1c" stroke-width="1.15"/>
<path d="M507.30 26.70 L510.30 32.80 L504.30 32.80 Z" fill="#fff" stroke="#000" stroke-width="1"/>
<text x="522.4" y="34.20" font-size="11.3">ECD</text>
<path d="M495.3 48.8 H519.9" stroke="#1c1c1c" stroke-width="1.15"/>
<path d="M504.50 46.10 L510.10 51.50 M504.50 51.50 L510.10 46.10" fill="none" stroke="#000" stroke-width="1.05"/><path d="M507.30 45.60 L507.30 52.00" fill="none" stroke="#555" stroke-width="0.8"/><circle cx="507.30" cy="48.80" r="1.25" fill="#000"/>
<text x="522.4" y="52.60" font-size="11.3">ECD 6</text>
<path d="M495.3 67.1 H519.9" stroke="#1c1c1c" stroke-width="1.15"/>
<rect x="504.80" y="64.60" width="5.00" height="5.00" fill="#fff" stroke="#111" stroke-width="1"/>
<text x="522.4" y="70.90" font-size="11.3">ECD 3</text>
<path d="M495.3 85.7 H519.9" stroke="#1c1c1c" stroke-width="1.15"/>
<circle cx="507.30" cy="85.70" r="2.4" fill="#fff" stroke="#111" stroke-width="0.95"/>
<text x="522.4" y="89.10" font-size="11.3">ECD 1.5</text>
</svg></body></html>
